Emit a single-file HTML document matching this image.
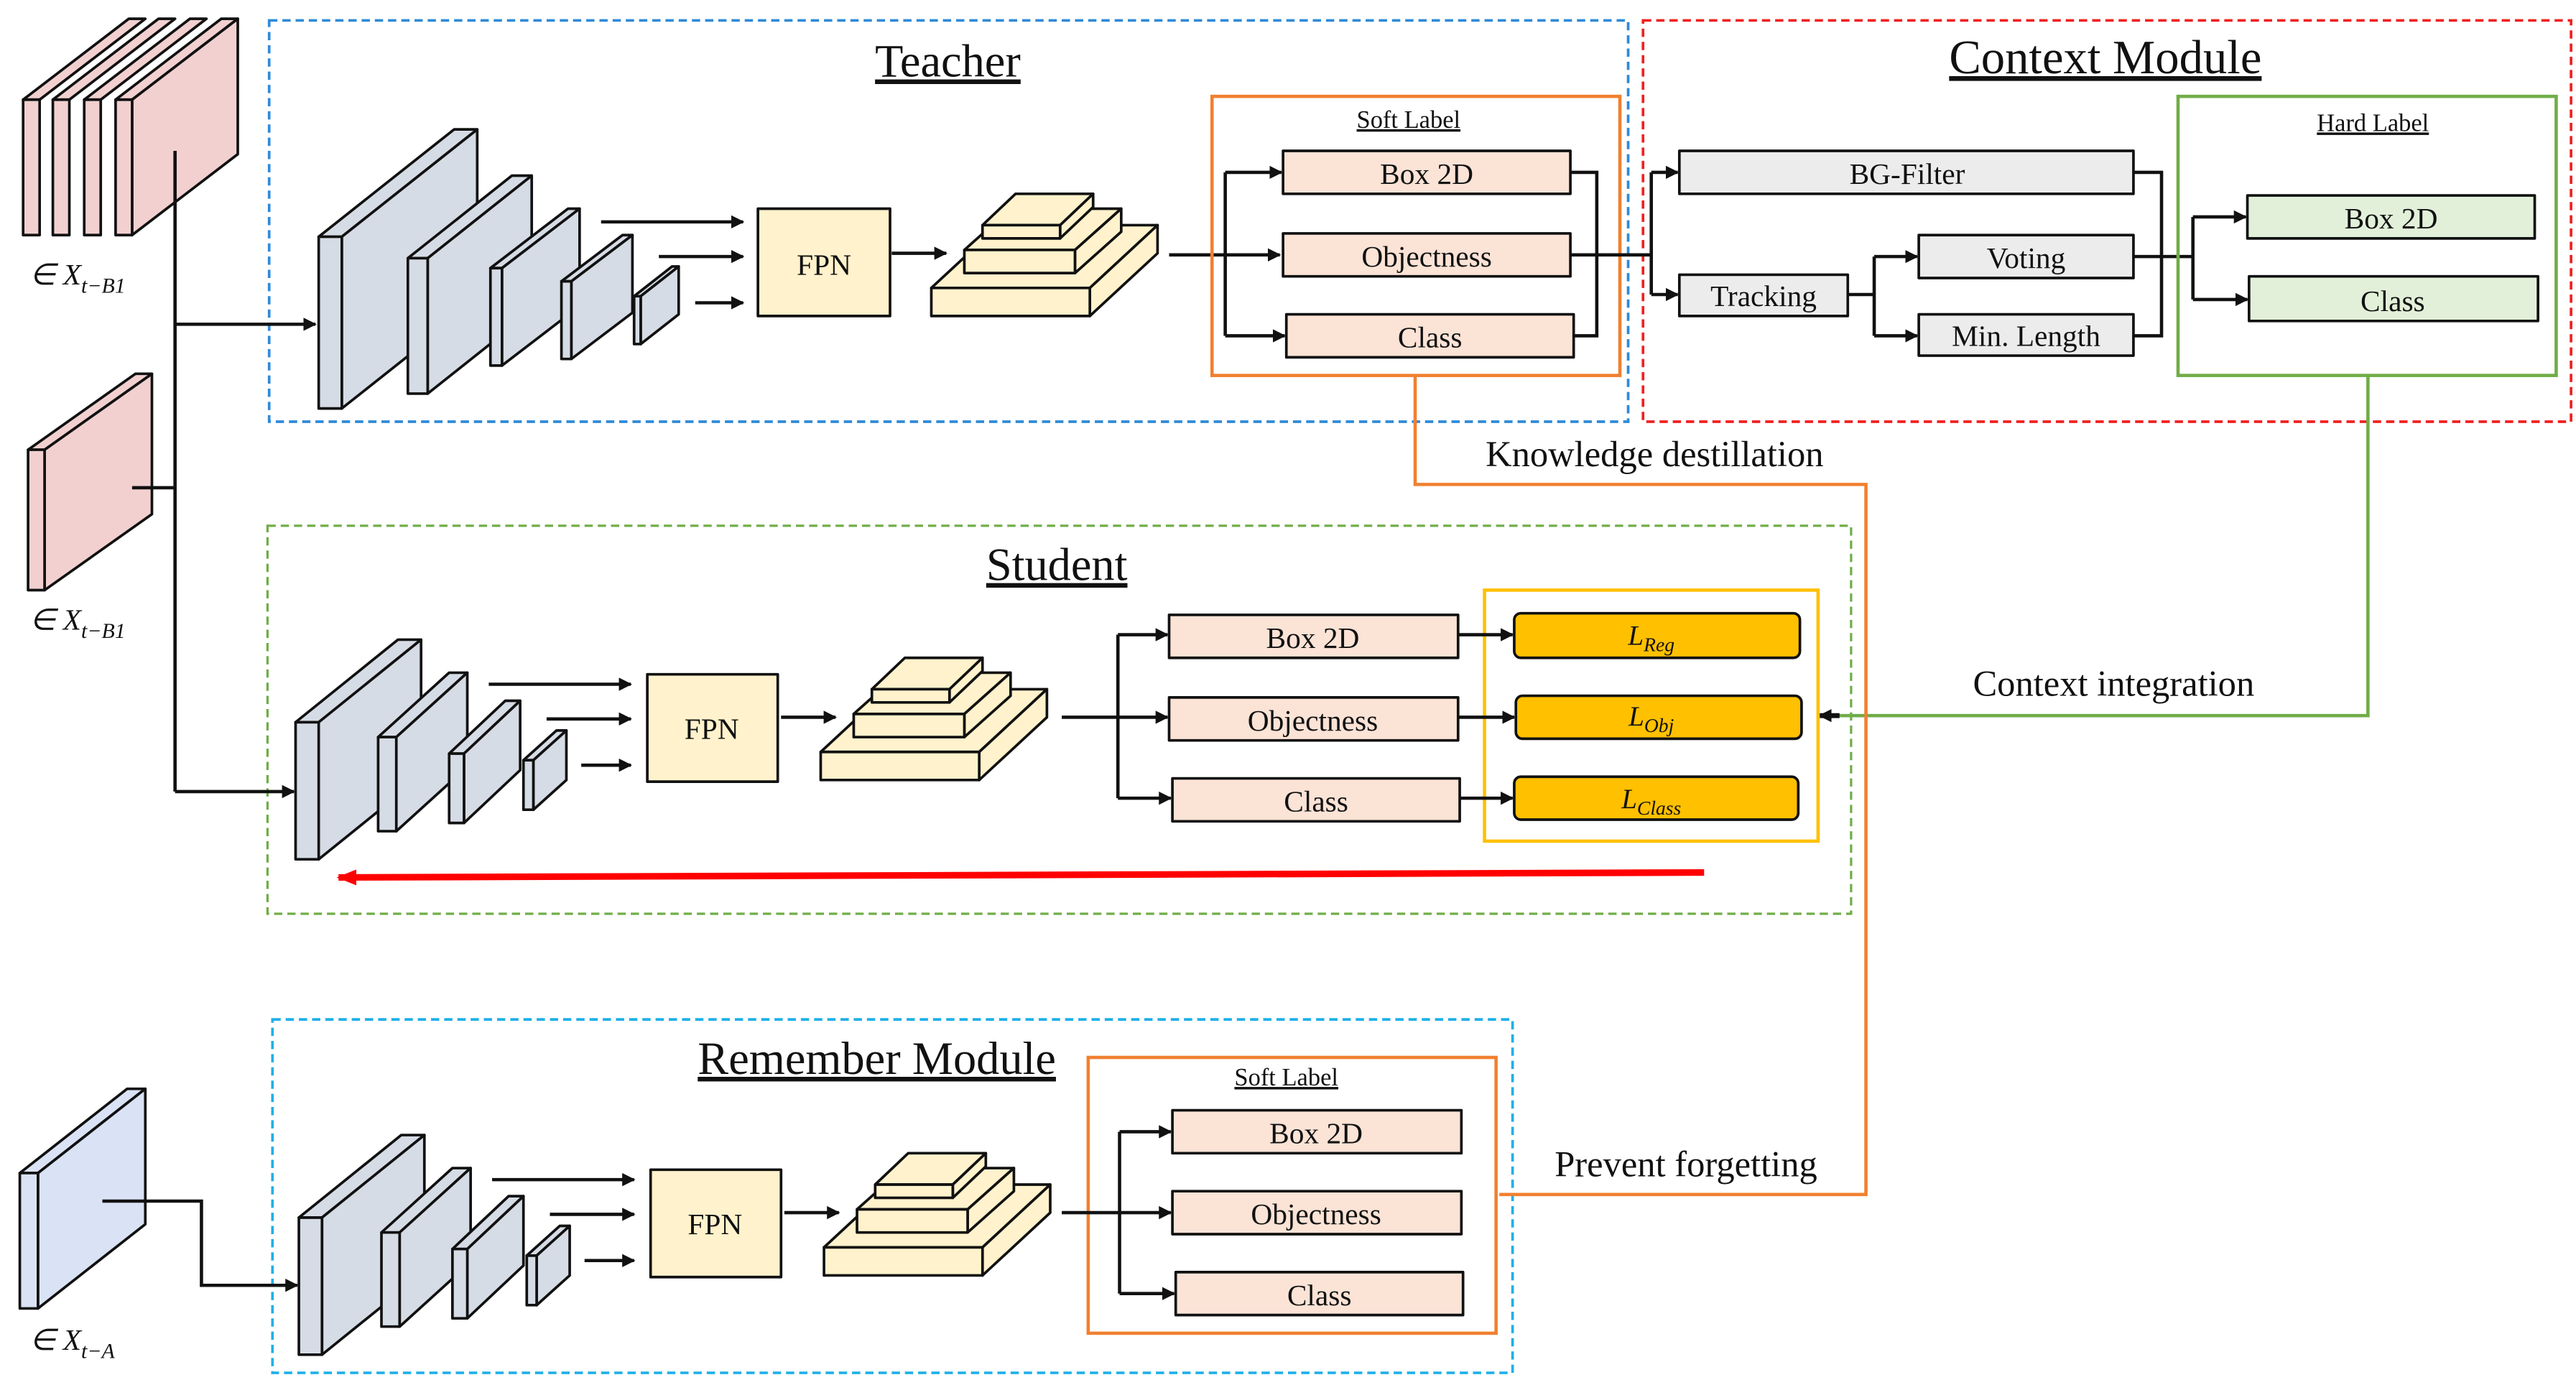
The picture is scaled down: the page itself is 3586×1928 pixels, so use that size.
<!DOCTYPE html>
<html><head><meta charset="utf-8"><style>
html,body{margin:0;padding:0;background:#fff}
svg{display:block}
svg text{font-family:"Liberation Serif","Times New Roman",serif !important;fill:#111}
.b{stroke:#111;stroke-width:1.6;stroke-linejoin:round}
.c{stroke:#111;stroke-width:2;fill:none}
</style></head><body>
<svg width="3586" height="1928" viewBox="0 0 1560 838" xmlns="http://www.w3.org/2000/svg" font-family="Liberation Serif, serif">
<defs>
<marker id="a" viewBox="0 0 10 10" refX="9" refY="5" markerWidth="8" markerHeight="8" orient="auto" markerUnits="userSpaceOnUse"><path d="M0,0L10,5L0,10z" fill="#111"/></marker>
<marker id="ar" viewBox="0 0 10 10" refX="9" refY="5" markerWidth="12" markerHeight="12" orient="auto" markerUnits="userSpaceOnUse"><path d="M0,1L10,5L0,9z" fill="#f00"/></marker>
</defs>

<rect x="163" y="12" width="823" height="243" fill="none" stroke="#2e8ad8" stroke-width="1.6" stroke-dasharray="5,3"/>
<rect x="995" y="12" width="562" height="243" fill="none" stroke="#f02020" stroke-width="1.6" stroke-dasharray="5,3"/>
<rect x="162" y="318" width="959" height="235" fill="none" stroke="#70ad47" stroke-width="1.4" stroke-dasharray="5,3"/>
<rect x="165" y="617" width="751" height="214" fill="none" stroke="#1fb0e8" stroke-width="1.6" stroke-dasharray="5,3"/>

<text x="574" y="46" font-size="28" text-anchor="middle" text-decoration="underline">Teacher</text>
<text x="1275" y="44" font-size="29" text-anchor="middle" text-decoration="underline">Context Module</text>
<text x="640" y="351" font-size="28" text-anchor="middle" text-decoration="underline">Student</text>
<text x="531" y="650" font-size="28" text-anchor="middle" text-decoration="underline">Remember Module</text>

<g fill="#f2d0d0" class="b">
<polygon points="14,60 24,60 88,11 78,11"/><rect x="14" y="60" width="10" height="82"/>
<polygon points="32,60 42,60 106,11 96,11"/><rect x="32" y="60" width="10" height="82"/>
<polygon points="51,60 61,60 125,11 115,11"/><rect x="51" y="60" width="10" height="82"/>
<polygon points="70,60 80,60 144,11 134,11"/><polygon points="80,60 144,11 144,93 80,142"/><rect x="70" y="60" width="10" height="82"/>
<polygon points="17,272 27,272 92,226 82,226"/><polygon points="27,272 92,226 92,311 27,357"/><rect x="17" y="272" width="10" height="85"/>
</g>
<g fill="#dae3f5" class="b">
<polygon points="12,710 23,710 88,659 77,659"/><polygon points="23,710 88,659 88,741 23,792"/><rect x="12" y="710" width="11" height="82"/>
</g>
<text x="18" y="172" font-size="18" font-style="italic">∈ X<tspan font-size="13" dy="5">t−B1</tspan></text>
<text x="18" y="381" font-size="18" font-style="italic">∈ X<tspan font-size="13" dy="5">t−B1</tspan></text>
<text x="18" y="817" font-size="18" font-style="italic">∈ X<tspan font-size="13" dy="5">t−A</tspan></text>

<path class="c" d="M106,91V479"/>
<path class="c" d="M106,196H191" marker-end="url(#a)"/>
<path class="c" d="M80,295H106"/>
<path class="c" d="M106,479H178" marker-end="url(#a)"/>
<path class="c" d="M62,727H122V778H180" marker-end="url(#a)"/>

<g fill="#d6dce5" class="b">
<polygon points="193,143 207,143 289,78 275,78"/><polygon points="207,143 289,78 289,182 207,247"/><rect x="193" y="143" width="14" height="104"/>
<polygon points="247,156 259,156 322,106 310,106"/><polygon points="259,156 322,106 322,188 259,238"/><rect x="247" y="156" width="12" height="82"/>
<polygon points="297,162 304,162 351,126 344,126"/><polygon points="304,162 351,126 351,185 304,221"/><rect x="297" y="162" width="7" height="59"/>
<polygon points="340,170 346,170 383,142 377,142"/><polygon points="346,170 383,142 383,189 346,217"/><rect x="340" y="170" width="6" height="47"/>
<polygon points="384,179 388,179 411,161 407,161"/><polygon points="388,179 411,161 411,190 388,208"/><rect x="384" y="179" width="4" height="29"/>
</g>
<path class="c" d="M364,134H450" marker-end="url(#a)"/>
<path class="c" d="M399,155H450" marker-end="url(#a)"/>
<path class="c" d="M421,183H450" marker-end="url(#a)"/>
<rect x="459" y="126" width="80" height="65" fill="#fff2cc" class="b"/>
<text x="499" y="166" font-size="18" text-anchor="middle">FPN</text>
<path class="c" d="M540,153H573" marker-end="url(#a)"/>
<g fill="#fff2cc" class="b">
<polygon points="564,174 605,136 701,136 660,174"/><polygon points="660,174 701,136 701,153 660,191"/><rect x="564" y="174" width="96" height="17"/>
<polygon points="584,151 612,126 679,126 651,151"/><polygon points="651,151 679,126 679,140 651,165"/><rect x="584" y="151" width="67" height="14"/>
<polygon points="595,136 615,117 662,117 642,136"/><polygon points="642,136 662,117 662,125 642,144"/><rect x="595" y="136" width="47" height="8"/>
</g>
<path class="c" d="M708,154H775" marker-end="url(#a)"/>

<rect x="734" y="58" width="247" height="169" fill="none" stroke="#f08030" stroke-width="2"/>
<text x="853" y="77" font-size="15" text-anchor="middle" text-decoration="underline">Soft Label</text>
<path class="c" d="M742,104V203"/>
<path class="c" d="M742,104H776" marker-end="url(#a)"/>
<path class="c" d="M742,203H778" marker-end="url(#a)"/>
<g fill="#fbe3d6" class="b">
<rect x="777" y="91" width="174" height="26"/><rect x="777" y="141" width="174" height="26"/><rect x="779" y="190" width="174" height="26"/>
</g>
<text x="864" y="111" font-size="18" text-anchor="middle">Box 2D</text>
<text x="864" y="161" font-size="18" text-anchor="middle">Objectness</text>
<text x="866" y="210" font-size="18" text-anchor="middle">Class</text>
<path class="c" d="M951,104H967V203H953M951,154H1000"/>

<path class="c" d="M1000,104V178"/>
<path class="c" d="M1000,104H1016" marker-end="url(#a)"/>
<path class="c" d="M1000,178H1016" marker-end="url(#a)"/>
<g fill="#ececec" class="b">
<rect x="1017" y="91" width="275" height="26"/><rect x="1017" y="166" width="102" height="25"/>
<rect x="1162" y="142" width="130" height="26"/><rect x="1162" y="190" width="130" height="25"/>
</g>
<text x="1155" y="111" font-size="18" text-anchor="middle">BG-Filter</text>
<text x="1068" y="185" font-size="18" text-anchor="middle">Tracking</text>
<text x="1227" y="162" font-size="18" text-anchor="middle">Voting</text>
<text x="1227" y="209" font-size="18" text-anchor="middle">Min. Length</text>
<path class="c" d="M1119,178H1135V203M1135,155V178"/>
<path class="c" d="M1135,155H1161" marker-end="url(#a)"/>
<path class="c" d="M1135,203H1161" marker-end="url(#a)"/>
<path class="c" d="M1292,104H1309V203H1292M1292,155H1328V181M1328,131V155"/>
<path class="c" d="M1328,131H1360" marker-end="url(#a)"/>
<path class="c" d="M1328,181H1361" marker-end="url(#a)"/>
<rect x="1319" y="58" width="229" height="169" fill="none" stroke="#70ad47" stroke-width="2"/>
<text x="1437" y="79" font-size="15" text-anchor="middle" text-decoration="underline">Hard Label</text>
<g fill="#e2f0d9" class="b"><rect x="1361" y="118" width="174" height="26"/><rect x="1362" y="167" width="175" height="27"/></g>
<text x="1448" y="138" font-size="18" text-anchor="middle">Box 2D</text>
<text x="1449" y="188" font-size="18" text-anchor="middle">Class</text>

<path d="M1434,227V433H1104" fill="none" stroke="#70ad47" stroke-width="2"/>
<path d="M1114,433H1102" stroke="#111" stroke-width="3" fill="none" marker-end="url(#a)"/>
<text x="1280" y="421" font-size="22" text-anchor="middle">Context integration</text>
<path d="M857,227V293H1130V723H908" fill="none" stroke="#f08030" stroke-width="2"/>
<text x="1002" y="282" font-size="22" text-anchor="middle">Knowledge destillation</text>
<text x="1021" y="712" font-size="22" text-anchor="middle">Prevent forgetting</text>

<g fill="#d6dce5" class="b">
<polygon points="179,437 193,437 255,387 241,387"/><polygon points="193,437 255,387 255,470 193,520"/><rect x="179" y="437" width="14" height="83"/>
<polygon points="229,446 240,446 283,407 272,407"/><polygon points="240,446 283,407 283,464 240,503"/><rect x="229" y="446" width="11" height="57"/>
<polygon points="272,456 281,456 315,424 306,424"/><polygon points="281,456 315,424 315,466 281,498"/><rect x="272" y="456" width="9" height="42"/>
<polygon points="317,460 323,460 343,442 337,442"/><polygon points="323,460 343,442 343,472 323,490"/><rect x="317" y="460" width="6" height="30"/>
</g>
<path class="c" d="M296,414H382" marker-end="url(#a)"/>
<path class="c" d="M331,435H382" marker-end="url(#a)"/>
<path class="c" d="M352,463H382" marker-end="url(#a)"/>
<rect x="392" y="408" width="79" height="65" fill="#fff2cc" class="b"/>
<text x="431" y="447" font-size="18" text-anchor="middle">FPN</text>
<path class="c" d="M473,434H506" marker-end="url(#a)"/>
<g fill="#fff2cc" class="b" transform="translate(-67,281)">
<polygon points="564,174 605,136 701,136 660,174"/><polygon points="660,174 701,136 701,153 660,191"/><rect x="564" y="174" width="96" height="17"/>
<polygon points="584,151 612,126 679,126 651,151"/><polygon points="651,151 679,126 679,140 651,165"/><rect x="584" y="151" width="67" height="14"/>
<polygon points="595,136 615,117 662,117 642,136"/><polygon points="642,136 662,117 662,125 642,144"/><rect x="595" y="136" width="47" height="8"/>
</g>
<path class="c" d="M643,434H707" marker-end="url(#a)"/>
<path class="c" d="M677,384V483"/>
<path class="c" d="M677,384H707" marker-end="url(#a)"/>
<path class="c" d="M677,483H709" marker-end="url(#a)"/>
<g fill="#fbe3d6" class="b">
<rect x="708" y="372" width="175" height="26"/><rect x="708" y="422" width="175" height="26"/><rect x="710" y="471" width="174" height="26"/>
</g>
<text x="795" y="392" font-size="18" text-anchor="middle">Box 2D</text>
<text x="795" y="442" font-size="18" text-anchor="middle">Objectness</text>
<text x="797" y="491" font-size="18" text-anchor="middle">Class</text>
<rect x="899" y="357" width="202" height="152" fill="none" stroke="#ffc000" stroke-width="2"/>
<path class="c" d="M883,384H916" marker-end="url(#a)"/>
<path class="c" d="M883,434H917" marker-end="url(#a)"/>
<path class="c" d="M884,483H916" marker-end="url(#a)"/>
<g fill="#ffc000" class="b">
<rect x="917" y="371" width="173" height="27" rx="4"/><rect x="918" y="421" width="173" height="26" rx="4"/><rect x="917" y="470" width="172" height="26" rx="4"/>
</g>
<text x="1000" y="390" font-size="17" font-style="italic" text-anchor="middle">L<tspan font-size="12" dy="4">Reg</tspan></text>
<text x="1000" y="439" font-size="17" font-style="italic" text-anchor="middle">L<tspan font-size="12" dy="4">Obj</tspan></text>
<text x="1000" y="489" font-size="17" font-style="italic" text-anchor="middle">L<tspan font-size="12" dy="4">Class</tspan></text>
<path d="M1032,528L205,531" stroke="#f00" stroke-width="4" fill="none" marker-end="url(#ar)"/>

<g transform="translate(2,300)">
<g fill="#d6dce5" class="b">
<polygon points="179,437 193,437 255,387 241,387"/><polygon points="193,437 255,387 255,470 193,520"/><rect x="179" y="437" width="14" height="83"/>
<polygon points="229,446 240,446 283,407 272,407"/><polygon points="240,446 283,407 283,464 240,503"/><rect x="229" y="446" width="11" height="57"/>
<polygon points="272,456 281,456 315,424 306,424"/><polygon points="281,456 315,424 315,466 281,498"/><rect x="272" y="456" width="9" height="42"/>
<polygon points="317,460 323,460 343,442 337,442"/><polygon points="323,460 343,442 343,472 323,490"/><rect x="317" y="460" width="6" height="30"/>
</g>
<path class="c" d="M296,414H382" marker-end="url(#a)"/>
<path class="c" d="M331,435H382" marker-end="url(#a)"/>
<path class="c" d="M352,463H382" marker-end="url(#a)"/>
<rect x="392" y="408" width="79" height="65" fill="#fff2cc" class="b"/>
<text x="431" y="447" font-size="18" text-anchor="middle">FPN</text>
<path class="c" d="M473,434H506" marker-end="url(#a)"/>
<g fill="#fff2cc" class="b" transform="translate(-67,281)">
<polygon points="564,174 605,136 701,136 660,174"/><polygon points="660,174 701,136 701,153 660,191"/><rect x="564" y="174" width="96" height="17"/>
<polygon points="584,151 612,126 679,126 651,151"/><polygon points="651,151 679,126 679,140 651,165"/><rect x="584" y="151" width="67" height="14"/>
<polygon points="595,136 615,117 662,117 642,136"/><polygon points="642,136 662,117 662,125 642,144"/><rect x="595" y="136" width="47" height="8"/>
</g>
</g>
<rect x="659" y="640" width="247" height="167" fill="none" stroke="#f08030" stroke-width="2"/>
<text x="779" y="657" font-size="15" text-anchor="middle" text-decoration="underline">Soft Label</text>
<path class="c" d="M643,734H709" marker-end="url(#a)"/>
<path class="c" d="M678,685V783"/>
<path class="c" d="M678,685H709" marker-end="url(#a)"/>
<path class="c" d="M678,783H711" marker-end="url(#a)"/>
<g fill="#fbe3d6" class="b">
<rect x="710" y="672" width="175" height="26"/><rect x="710" y="721" width="175" height="26"/><rect x="712" y="770" width="174" height="26"/>
</g>
<text x="797" y="692" font-size="18" text-anchor="middle">Box 2D</text>
<text x="797" y="741" font-size="18" text-anchor="middle">Objectness</text>
<text x="799" y="790" font-size="18" text-anchor="middle">Class</text>
</svg>
</body></html>
